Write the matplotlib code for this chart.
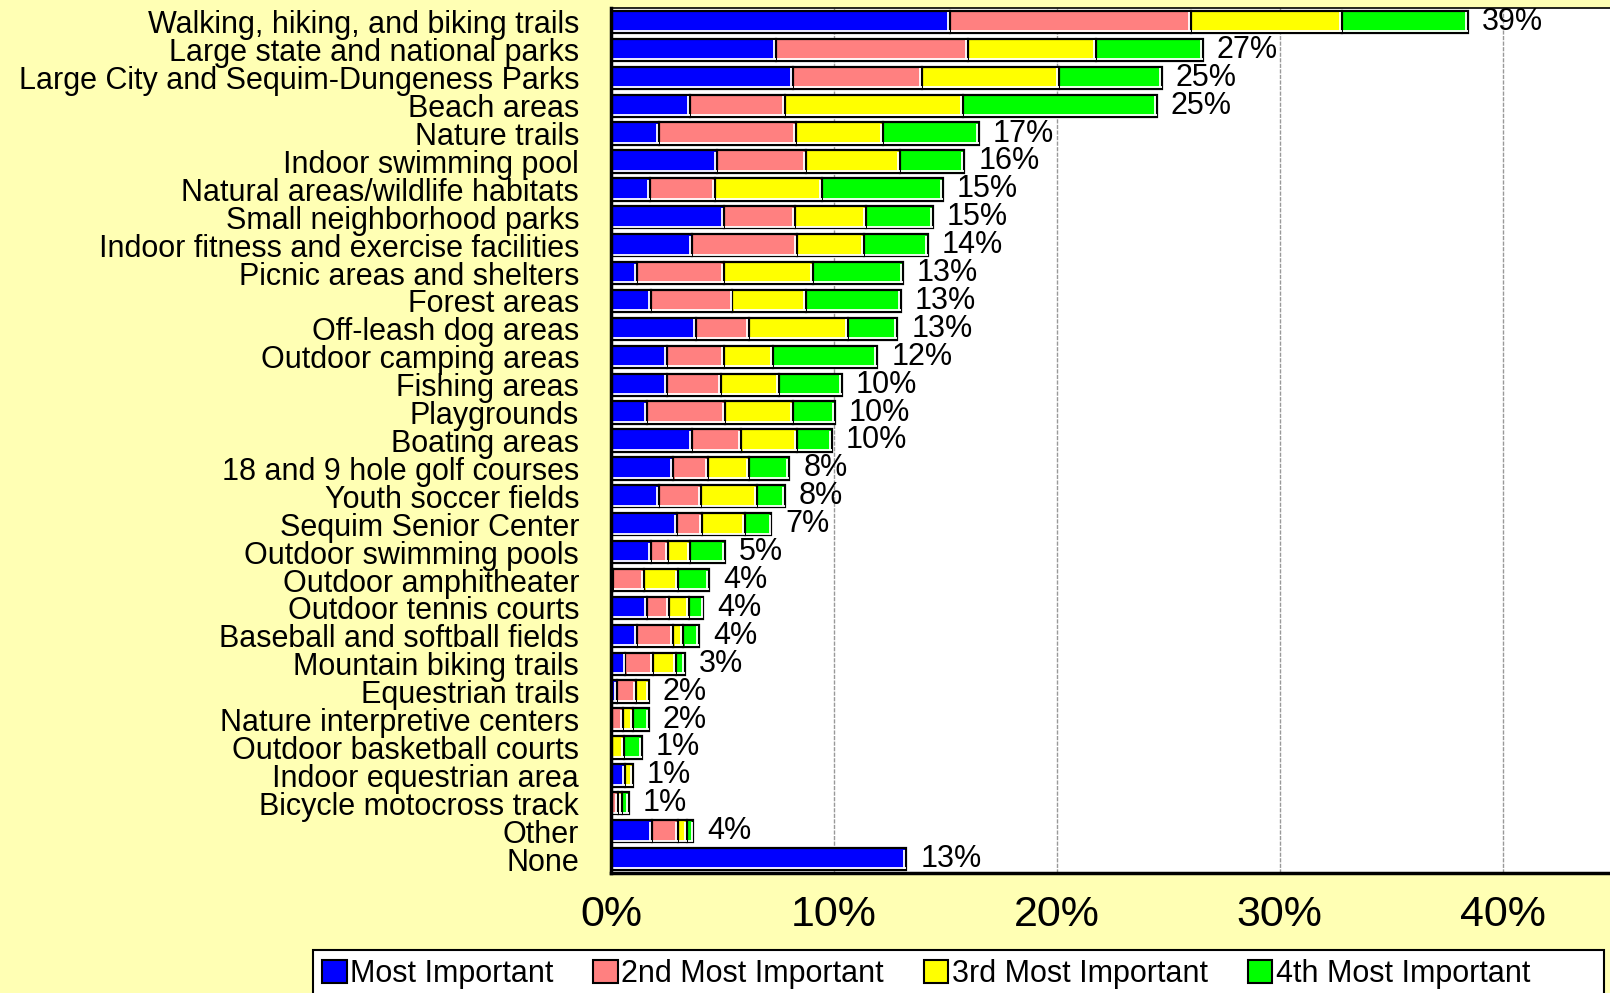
import matplotlib
matplotlib.use("Agg")
import matplotlib.pyplot as plt
import matplotlib.transforms as mtransforms
from matplotlib.patches import Patch, Rectangle
import numpy as np

categories = [
    "Walking, hiking, and biking trails",
    "Large state and national parks",
    "Large City and Sequim-Dungeness Parks",
    "Beach areas",
    "Nature trails",
    "Indoor swimming pool",
    "Natural areas/wildlife habitats",
    "Small neighborhood parks",
    "Indoor fitness and exercise facilities",
    "Picnic areas and shelters",
    "Forest areas",
    "Off-leash dog areas",
    "Outdoor camping areas",
    "Fishing areas",
    "Playgrounds",
    "Boating areas",
    "18 and 9 hole golf courses",
    "Youth soccer fields",
    "Sequim Senior Center",
    "Outdoor swimming pools",
    "Outdoor amphitheater",
    "Outdoor tennis courts",
    "Baseball and softball fields",
    "Mountain biking trails",
    "Equestrian trails",
    "Nature interpretive centers",
    "Outdoor basketball courts",
    "Indoor equestrian area",
    "Bicycle motocross track",
    "Other",
    "None",
]

most_important = [15.2, 7.4, 8.15, 3.55, 2.15, 4.75, 1.75, 5.05, 3.65, 1.15,
                  1.8, 3.8, 2.5, 2.5, 1.6, 3.65, 2.8, 2.15, 2.95, 1.8,
                  0.1, 1.6, 1.15, 0.65, 0.25, 0.0, 0.0, 0.62, 0.0, 1.85, 13.25]
second_most = [10.8, 8.6, 5.8, 4.25, 6.15, 4.0, 2.9, 3.2, 4.7, 3.9,
               3.65, 2.4, 2.55, 2.45, 3.5, 2.2, 1.55, 1.9, 1.15, 0.75,
               1.4, 1.0, 1.65, 1.25, 0.85, 0.55, 0.0, 0.0, 0.3, 1.15, 0.0]
third_most = [6.8, 5.75, 6.15, 8.0, 3.9, 4.2, 4.8, 3.2, 3.0, 4.0,
              3.3, 4.45, 2.2, 2.6, 3.05, 2.5, 1.85, 2.5, 1.9, 1.0,
              1.5, 0.9, 0.45, 1.0, 0.6, 0.45, 0.6, 0.35, 0.2, 0.4, 0.0]
fourth_most = [5.65, 4.8, 4.6, 8.7, 4.3, 2.9, 5.45, 3.0, 2.85, 4.05,
               4.25, 2.2, 4.7, 2.8, 1.9, 1.55, 1.8, 1.25, 1.2, 1.55,
               1.4, 0.65, 0.7, 0.4, 0.0, 0.7, 0.8, 0.0, 0.3, 0.3, 0.0]
total_labels = ["39%", "27%", "25%", "25%", "17%", "16%", "15%", "15%", "14%", "13%",
                "13%", "13%", "12%", "10%", "10%", "10%", "8%", "8%", "7%", "5%",
                "4%", "4%", "4%", "3%", "2%", "2%", "1%", "1%", "1%", "4%", "13%"]

series_names = ["Most Important", "2nd Most Important", "3rd Most Important", "4th Most Important"]
series_colors = ["#0000FF", "#FF8080", "#FFFF00", "#00FF00"]
x_ticks = [0, 10, 20, 30, 40]
x_tick_labels = ["0%", "10%", "20%", "30%", "40%"]

FONT = "Liberation Sans"
BG = "#FFFFB4"
W, H = 1610, 993

fig = plt.figure(figsize=(W / 100, H / 100), dpi=100, facecolor=BG)
# axes: left at x=611 px, top at y=8 px, bottom at y=873 px; extends past right edge
ax = fig.add_axes([611 / W, 1 - 873 / H, (1614 - 611) / W, (873 - 8) / H])
ax.set_facecolor("white")

y = np.arange(len(categories))
series = [most_important, second_most, third_most, fourth_most]
bar_h = 0.8
left = np.zeros(len(categories))
white_r = mtransforms.offset_copy(ax.transData, fig=fig, x=-1.4, y=0, units="points")
white_b = mtransforms.offset_copy(ax.transData, fig=fig, x=0, y=1.3, units="points")
for vals, col, name in zip(series, series_colors, series_names):
    vals = np.array(vals)
    mask = vals > 0
    ax.barh(y[mask], vals[mask], left=left[mask], height=bar_h, color=col,
            edgecolor="black", linewidth=1.6, label=name, zorder=3)
    # white inner highlight at right and bottom of each segment
    for yi, l, v in zip(y[mask], left[mask], vals[mask]):
        ax.plot([l + v, l + v], [yi - bar_h / 2 + 0.06, yi + bar_h / 2 - 0.06],
                color="white", lw=1.3, transform=white_r, zorder=4,
                solid_capstyle="butt")
        ax.plot([l + 0.05, l + v], [yi + bar_h / 2, yi + bar_h / 2],
                color="white", lw=1.3, transform=white_b, zorder=4,
                solid_capstyle="butt")
    left = left + vals

totals = left
for yi, t, lab in zip(y, totals, total_labels):
    ax.annotate(lab, xy=(t, yi), xytext=(10, 0), textcoords="offset points",
                va="center", ha="left", fontsize=22, family=FONT, color="black")

ax.set_xlim(0, 45)
ax.set_ylim(len(categories) - 0.5, -0.5)
ax.set_xticks(x_ticks)
ax.set_xticklabels(x_tick_labels, fontsize=31, family=FONT)
ax.set_yticks(y)
ax.set_yticklabels(categories, fontsize=22, family=FONT)
ax.tick_params(axis="y", length=0, pad=23)
ax.tick_params(axis="x", length=0, pad=16)
ax.grid(axis="x", color="#999999", linestyle=(0, (3, 1)), linewidth=1.0, zorder=0)
ax.set_axisbelow(True)
for s in ["left", "bottom"]:
    ax.spines[s].set_linewidth(2.5)
    ax.spines[s].set_color("black")
ax.spines["top"].set_linewidth(1.2)
ax.spines["right"].set_visible(False)
ax.spines["left"].set_zorder(5)

# legend frame (extends past the bottom of the figure, as in the original)
frame = Rectangle((313 / W, -0.05), (1604 - 313) / W, (1 - 950 / H) + 0.05,
                  transform=fig.transFigure, facecolor="white", edgecolor="black",
                  linewidth=1.5, zorder=1)
fig.patches.append(frame)

handles = [Patch(facecolor=c, edgecolor="black", linewidth=1.5) for c in series_colors]
leg = fig.legend(handles, series_names, loc="upper left",
                 bbox_to_anchor=(313 / W, 1 - 950 / H), ncol=4,
                 prop={"family": FONT, "size": 22}, frameon=False,
                 handlelength=0.8, handleheight=0.8, handletextpad=0.12,
                 columnspacing=1.3, borderpad=0.3, borderaxespad=0)
leg.set_zorder(2)

fig.savefig("out.png", dpi=100, facecolor=BG)
